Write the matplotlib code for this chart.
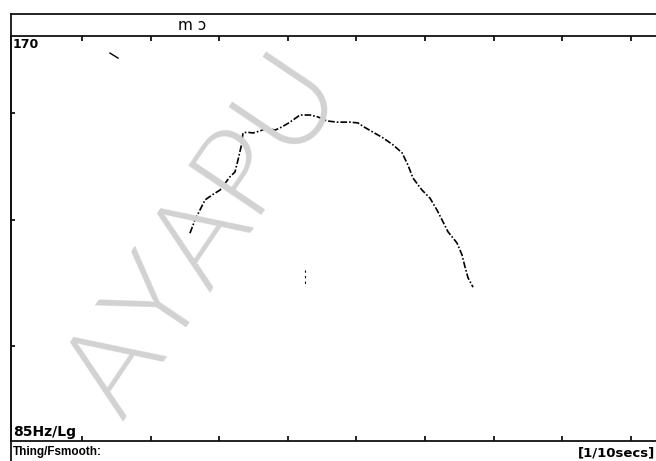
import matplotlib
matplotlib.use("Agg")
import matplotlib.pyplot as plt
from matplotlib.lines import Line2D

# Pitch contour: time in 1/10 s, F0 in Hz
time_ds = [2.574, 2.647, 2.793, 2.895, 3.012, 3.157, 3.230, 3.274, 3.318, 3.347,
           3.405, 3.493, 3.595, 3.697, 3.813, 3.915, 4.032, 4.178, 4.324, 4.440,
           4.571, 4.717, 4.907, 5.023, 5.111, 5.242, 5.388, 5.534, 5.665, 5.752,
           5.825, 5.956, 6.073, 6.175, 6.262, 6.335, 6.466, 6.539, 6.583, 6.627,
           6.700]
f0_hz = [121.3, 124.1, 128.4, 129.5, 130.6, 133.6, 134.7, 137.5, 140.6, 144.0,
         144.2, 144.0, 144.5, 145.2, 144.7, 145.5, 146.7, 148.5, 148.5, 148.0,
         147.0, 146.7, 146.7, 146.5, 145.5, 144.2, 142.8, 141.1, 139.2, 136.3,
         133.3, 130.6, 128.8, 126.2, 123.7, 121.6, 119.3, 116.9, 114.5, 112.4,
         110.6]

# Short isolated pitch fragments
frag1_t = [1.408, 1.525]
frag1_f = [165.1, 163.7]
frag2_t = [4.25, 4.25]
frag2_f = [113.9, 111.0]

f_min, f_max = 85, 170
x_ticks = [1, 2, 3, 4, 5, 6, 7, 8, 9]
y_ticks = [100, 124, 149]
segment_label = "m ɔ"
top_label = "170"
bottom_label = "85Hz/Lg"
status_label = "Thing/Fsmooth:"
unit_label = "[1/10secs]"

W, H = 656, 461
fig = plt.figure(figsize=(W / 100, H / 100), dpi=100)
fig.patch.set_facecolor("white")


def fx(px):
    return px / W


def fy(py):
    return 1 - py / H


# Watermark behind everything
fig.text(fx(205), fy(236), "AYAPU", fontsize=90, color="#d2d2d2",
         rotation=56, rotation_mode="anchor", ha="center", va="center",
         family=["Lato", "Open Sans", "DejaVu Sans"], fontweight=300, zorder=0)

ax_l, ax_r, ax_t, ax_b = 11, 656, 36, 441
ax = fig.add_axes([fx(ax_l), fy(ax_b), fx(ax_r) - fx(ax_l), fy(ax_t) - fy(ax_b)])
ax.patch.set_alpha(0)
ax.set_yscale("log")
ax.set_ylim(f_min, f_max)
ax.set_xlim(1 - 71 / 68.6, 1 + (656 - 82) / 68.6)

line_style = dict(color="black", lw=1.2, linestyle=(0, (4, 1.2, 1, 1.2)),
                  solid_capstyle="butt")
ax.plot(time_ds, f0_hz, **line_style, zorder=3)
ax.plot(frag1_t, frag1_f, color="black", lw=1.0, zorder=3)
ax.plot(frag2_t, frag2_f, color="black", lw=0.8, linestyle=(0, (2, 3)), zorder=3)

for side in ("left", "bottom", "top"):
    ax.spines[side].set_linewidth(1.3)
    ax.spines[side].set_color("#111111")
ax.spines["right"].set_visible(False)

ax.set_xticks(x_ticks)
ax.set_yticks(y_ticks)
ax.yaxis.set_minor_locator(matplotlib.ticker.NullLocator())
ax.tick_params(axis="x", which="both", direction="in", top=True, bottom=True,
               length=3.5, width=1.3, labelbottom=False, labeltop=False,
               color="#111111")
ax.tick_params(axis="y", which="both", direction="in", left=True, right=False,
               length=3, width=1.3, labelleft=False, color="#111111")

# Header strip with the segment label
fig.add_artist(Line2D([fx(11), 1], [fy(14), fy(14)], color="#111111", lw=1.3))
fig.add_artist(Line2D([fx(11), fx(11)], [fy(14), fy(461)], color="#111111", lw=1.3))
fig.text(fx(192), fy(25), segment_label, fontsize=11, ha="center", va="center",
         family="DejaVu Sans", color="black")

bold = dict(family="DejaVu Sans", fontweight="bold", color="black")
fig.text(fx(13), fy(45), top_label, fontsize=9, ha="left", va="center", **bold)
fig.text(fx(13), fy(432), bottom_label, fontsize=10, ha="left", va="center", **bold)
fig.text(fx(13), fy(452), status_label, fontsize=8.5, ha="left", va="center",
         family="Liberation Sans", fontweight="bold", color="black")
fig.text(fx(655), fy(453), unit_label, fontsize=9.5, ha="right", va="center", **bold)

fig.savefig("out.png", dpi=100, facecolor="white")
